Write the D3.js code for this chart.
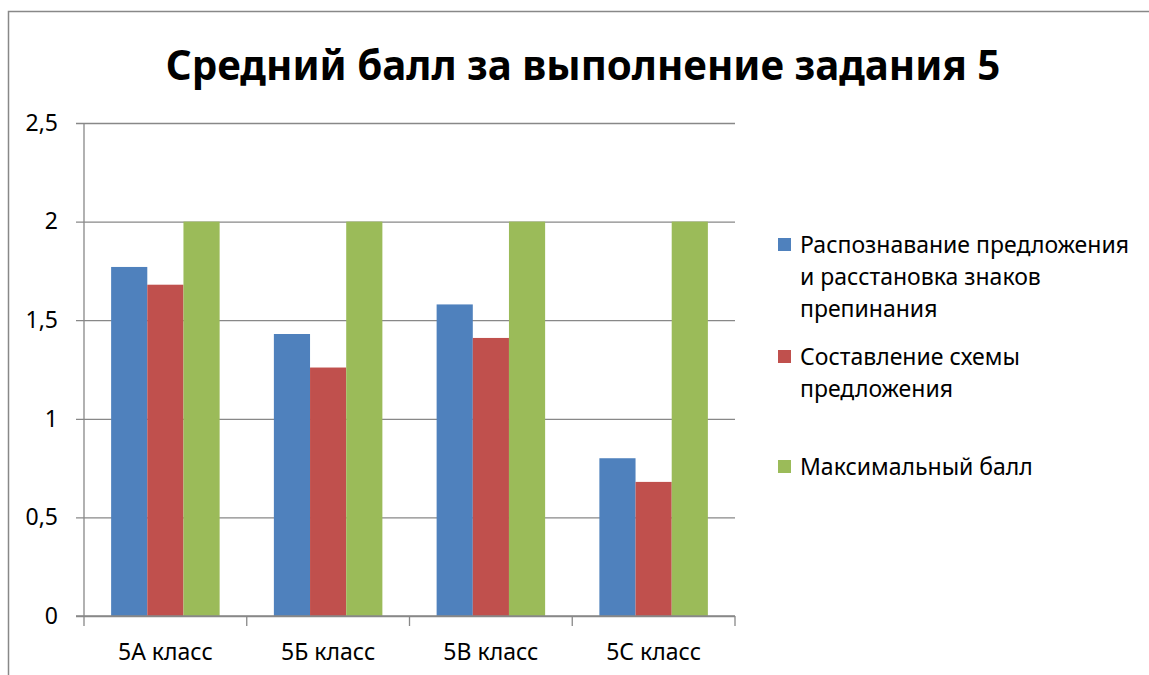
<!DOCTYPE html>
<html>
<head>
<meta charset="utf-8">
<script src="https://cdn.jsdelivr.net/npm/d3@7"></script>
<style>
 body { margin: 0; background: #fff; overflow: hidden; }
 text { font-family: "Noto Sans", "DejaVu Sans", sans-serif; fill: #000; }
</style>
</head>
<body>
<div id="chart"></div>
<script>
// data
const classes = ["5А класс", "5Б класс", "5В класс", "5С класс"];
const seriesNames = [
  ["Распознавание предложения", "и расстановка знаков", "препинания"],
  ["Составление схемы", "предложения"],
  ["Максимальный балл"]
];
const recognition = [1.77, 1.43, 1.58, 0.80];
const scheme = [1.68, 1.26, 1.41, 0.68];
const maxScore = [2, 2, 2, 2];
const yTicks = [0, 0.5, 1, 1.5, 2, 2.5];
const colors = ["#4f81bd", "#c0504d", "#9bbb59"];

const W = 1149, H = 675;
const margin = {top: 123, right: 414, bottom: 59, left: 84},
  width = W - margin.left - margin.right,
  height = H - margin.top - margin.bottom;

const root = d3.select("#chart").append("svg")
  .attr("width", W).attr("height", H)
  .style("display", "block");

// frame
root.append("rect")
  .attr("x", 8.5).attr("y", 11.5)
  .attr("width", 1160).attr("height", 700)
  .attr("fill", "none").attr("stroke", "#888").attr("stroke-width", 1.5);

// title
const title = root.append("text")
  .attr("x", 583).attr("y", 80)
  .attr("text-anchor", "middle")
  .style("font-size", "40px").style("font-weight", "bold")
  .text("Средний балл за выполнение задания 5");
const tw = title.node().getComputedTextLength();
title.style("font-size", (40 * 835 / tw) + "px");

const svg = root.append("g")
  .attr("transform", "translate(" + margin.left + "," + margin.top + ")");

const x0 = d3.scaleBand().domain(classes).range([0, width])
  .paddingInner(1 / 3).paddingOuter(1 / 6);
const x1 = d3.scaleBand().domain([0, 1, 2]).range([0, x0.bandwidth()]);
const y = d3.scaleLinear().domain([0, 2.5]).range([height, 0]);

// grid
svg.append("g")
  .call(d3.axisLeft(y).tickValues(yTicks).tickSize(-width).tickPadding(26)
    .tickFormat(d => String(d).replace(".", ",")))
  .call(g => g.select(".domain").remove())
  .call(g => g.selectAll(".tick line").attr("stroke", "#888").attr("x1", -8).attr("stroke-width", 1.3))
  .call(g => g.selectAll(".tick text").style("font-size", "23px").attr("font-family", null));

// bars
const series = [recognition, scheme, maxScore];
classes.forEach((c, i) => {
  series.forEach((s, k) => {
    svg.append("rect")
      .attr("x", x0(c) + x1(k))
      .attr("y", y(s[i]))
      .attr("width", x1.bandwidth())
      .attr("height", height - y(s[i]))
      .attr("fill", colors[k]);
  });
});

// axes lines
const xb = d3.scalePoint().domain(d3.range(5)).range([0, width]);
svg.append("line").attr("x1", 0).attr("x2", 0).attr("y1", 0).attr("y2", height)
  .attr("stroke", "#888").attr("stroke-width", 1.3);
svg.append("line").attr("x1", -8).attr("x2", width).attr("y1", height).attr("y2", height)
  .attr("stroke", "#888").attr("stroke-width", 1.3);
svg.selectAll(".xtick").data(d3.range(5)).enter().append("line")
  .attr("x1", d => xb(d)).attr("x2", d => xb(d))
  .attr("y1", height).attr("y2", height + 10)
  .attr("stroke", "#888").attr("stroke-width", 1.3);
svg.selectAll(".xlab").data(classes).enter().append("text")
  .attr("x", d => x0(d) + x0.bandwidth() / 2)
  .attr("y", height + 44)
  .attr("text-anchor", "middle")
  .style("font-size", "23px")
  .text(d => d);

// legend
const legendY = [245, 357, 467];
const legend = root.append("g");
seriesNames.forEach((lines, k) => {
  legend.append("rect")
    .attr("x", 778).attr("y", legendY[k] - 7)
    .attr("width", 13).attr("height", 13)
    .attr("fill", colors[k]);
  lines.forEach((t, j) => {
    legend.append("text")
      .attr("x", 800).attr("y", legendY[k] + j * 32 + 8)
      .style("font-size", "23px")
      .text(t);
  });
});
</script>
</body>
</html>
